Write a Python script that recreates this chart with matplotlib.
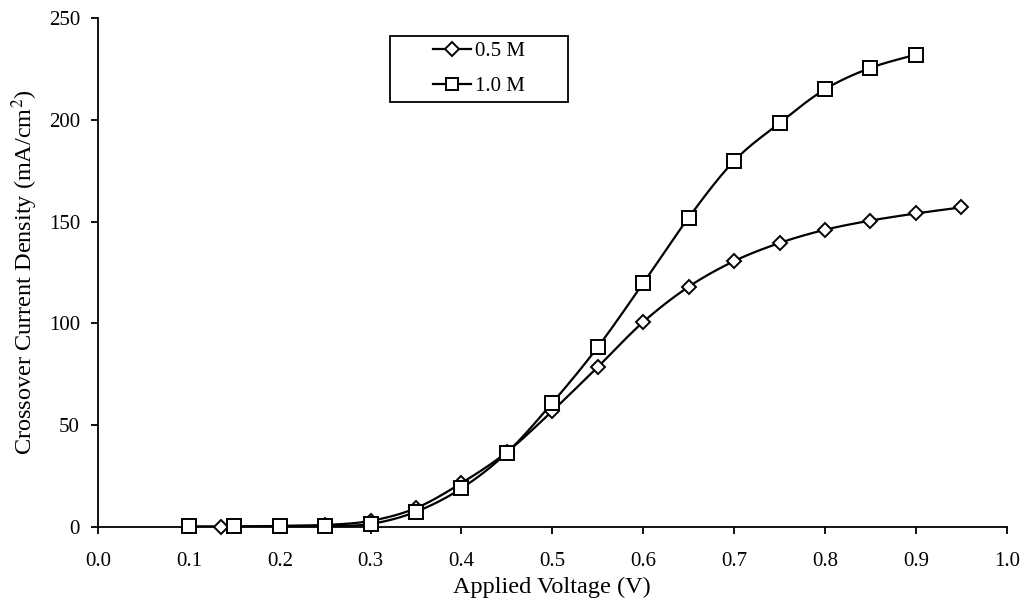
import numpy as np
import matplotlib.pyplot as plt
from matplotlib.patches import Rectangle

# 0.5 M
v_05 = [0.135, 0.2, 0.25, 0.3, 0.35, 0.4, 0.45, 0.5, 0.55, 0.6, 0.65, 0.7, 0.75, 0.8, 0.85, 0.9, 0.95]
j_05 = [0.0, 0.5, 1.0, 3.0, 9.3, 21.6, 36.8, 57.0, 78.6, 100.7, 118.0, 130.6, 139.5, 146.0, 150.5, 154.0, 157.0]

# 1.0 M
v_10 = [0.1, 0.15, 0.2, 0.25, 0.3, 0.35, 0.4, 0.45, 0.5, 0.55, 0.6, 0.65, 0.7, 0.75, 0.8, 0.85, 0.9]
j_10 = [0.3, 0.3, 0.5, 0.5, 1.5, 7.5, 19.0, 36.5, 61.0, 88.4, 119.8, 152.0, 179.8, 198.4, 215.0, 225.5, 232.0]

x_ticks = np.arange(0, 1.01, 0.1)
y_ticks = np.arange(0, 251, 50)


def smooth(x, y, n=20):
    # catmull-rom, like excel's smoothed line
    x = np.asarray(x, float)
    y = np.asarray(y, float)
    p = np.column_stack([x, y])
    p = np.vstack([p[0], p, p[-1]])
    out = []
    t = np.linspace(0, 1, n, endpoint=False)
    for i in range(1, len(p) - 2):
        p0, p1, p2, p3 = p[i - 1], p[i], p[i + 1], p[i + 2]
        tt = t[:, None]
        seg = 0.5 * ((2 * p1) + (-p0 + p2) * tt + (2 * p0 - 5 * p1 + 4 * p2 - p3) * tt**2
                     + (-p0 + 3 * p1 - 3 * p2 + p3) * tt**3)
        out.append(seg)
    out.append(p[-2][None, :])
    out = np.vstack(out)
    return out[:, 0], out[:, 1]


plt.rcParams['font.family'] = ['Liberation Serif', 'DejaVu Serif']
plt.rcParams['mathtext.fontset'] = 'stix'

fig = plt.figure(figsize=(10.21, 6.02), dpi=100)
ax = fig.add_axes([0.096, 0.1246, 0.89, 0.8454])

for v, j, m, ms, lms, lab in [(v_05, j_05, 'D', 7.5, 6.8, '0.5 M'),
                              (v_10, j_10, 's', 10.5, 8.5, '1.0 M')]:
    sx, sy = smooth(v, j)
    ax.plot(sx, sy, color='black', lw=1.6, zorder=2)
    ax.plot(v, j, linestyle='none', marker=m, ms=ms, mfc='white', mec='black', mew=1.4,
            zorder=3, clip_on=False)
    ax.plot([], [], color='black', lw=1.6, marker=m, ms=lms, mfc='white', mec='black',
            mew=1.4, label=lab)

ax.set_xlim(0, 1.0)
ax.set_ylim(0, 250)
ax.set_xticks(x_ticks)
ax.set_xticklabels([f'{t:.1f}' for t in x_ticks])
ax.set_yticks(y_ticks)
ax.spines['top'].set_visible(False)
ax.spines['right'].set_visible(False)
ax.spines['left'].set_linewidth(1.3)
ax.spines['bottom'].set_linewidth(1.3)
ax.tick_params(direction='out', length=5, width=1.3, labelsize=15)
ax.tick_params(axis='x', pad=13)
ax.tick_params(axis='y', pad=8)
ax.set_xlabel('Applied Voltage (V)', fontsize=17.5, labelpad=4)
ax.set_ylabel('Crossover Current Density (mA/cm$^2$)', fontsize=17.5, labelpad=6)

# legend box drawn separately to get the wide padding
ax.add_patch(Rectangle((0.3212, 0.835), 0.1958, 0.1296, transform=ax.transAxes,
                       fill=False, edgecolor='black', lw=1.3, zorder=4))
leg = ax.legend(loc='center', bbox_to_anchor=(0.419, 0.900), fontsize=15, frameon=False,
                handlelength=1.85, handletextpad=0.15, labelspacing=0.75, borderpad=0)

fig.savefig('out.png', dpi=100)
